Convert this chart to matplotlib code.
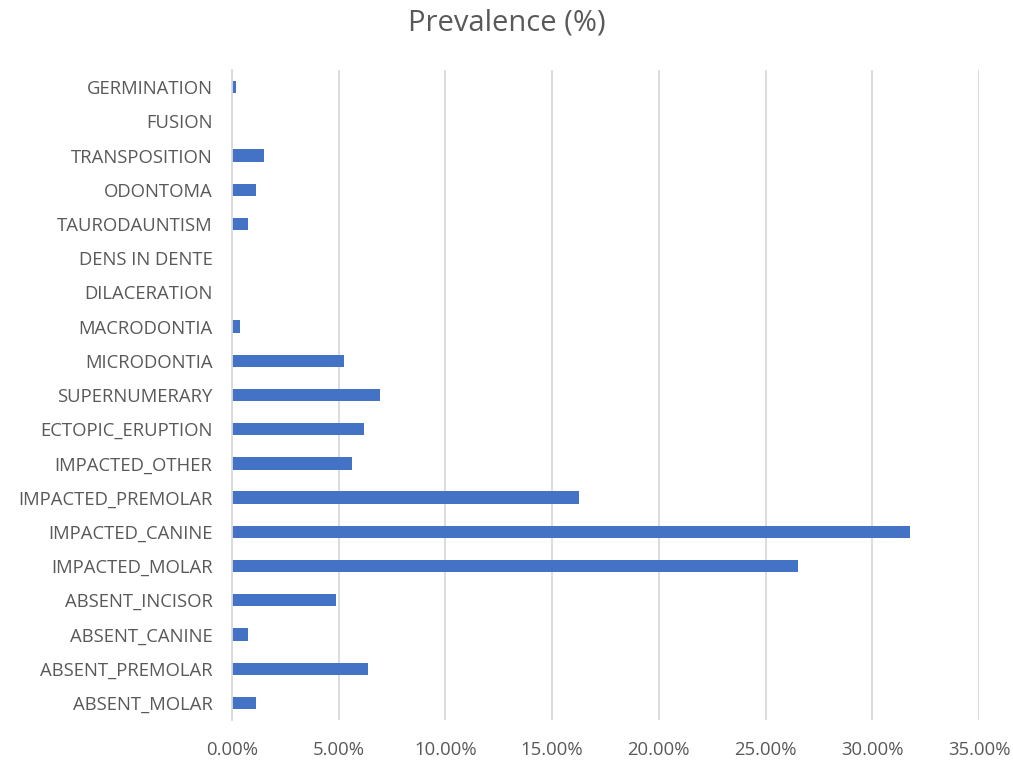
import matplotlib
matplotlib.use("Agg")
import matplotlib.pyplot as plt
from matplotlib.ticker import FuncFormatter, MultipleLocator

categories = [
    "ABSENT_MOLAR", "ABSENT_PREMOLAR", "ABSENT_CANINE", "ABSENT_INCISOR",
    "IMPACTED_MOLAR", "IMPACTED_CANINE", "IMPACTED_PREMOLAR", "IMPACTED_OTHER",
    "ECTOPIC_ERUPTION", "SUPERNUMERARY", "MICRODONTIA", "MACRODONTIA",
    "DILACERATION", "DENS IN DENTE", "TAURODAUNTISM", "ODONTOMA",
    "TRANSPOSITION", "FUSION", "GERMINATION",
]
prevalence = [
    1.12, 6.36, 0.75, 4.86,
    26.54, 31.78, 16.26, 5.61,
    6.17, 6.92, 5.23, 0.37,
    0.0, 0.0, 0.75, 1.12,
    1.50, 0.0, 0.19,
]
title = "Prevalence (%)"

text_color = "#595959"
grid_color = "#d9d9d9"
bar_color = "#4472C4"
plt.rcParams["font.family"] = ["Open Sans", "DejaVu Sans"]

fig = plt.figure(figsize=(10.13, 7.6), dpi=100)
ax = fig.add_axes([232 / 1013, 40 / 760, (979 - 232) / 1013, 650 / 760])

y = range(len(categories))
ax.barh(list(y), prevalence, height=0.36, color=bar_color, zorder=3)

ax.set_xlim(0, 35)
ax.set_ylim(-0.5, len(categories) - 0.5)
ax.xaxis.set_major_locator(MultipleLocator(5))
ax.xaxis.set_major_formatter(FuncFormatter(lambda v, _: f"{v:.2f}%"))
ax.set_yticks(list(y))
ax.set_yticklabels(categories)

ax.grid(axis="x", color=grid_color, linewidth=1.3, zorder=0)
for side in ("top", "right", "bottom"):
    ax.spines[side].set_visible(False)
ax.spines["left"].set_color(grid_color)
ax.spines["left"].set_linewidth(1.3)
ax.spines["left"].set_zorder(4)

ax.tick_params(axis="both", length=0, colors=text_color, labelsize=13.3)
ax.tick_params(axis="y", pad=14)
ax.tick_params(axis="x", pad=15)

fig.text(0.5, 1 - 23 / 760, title, ha="center", va="center",
         fontsize=21, color=text_color)

fig.savefig("out.png", dpi=100)
